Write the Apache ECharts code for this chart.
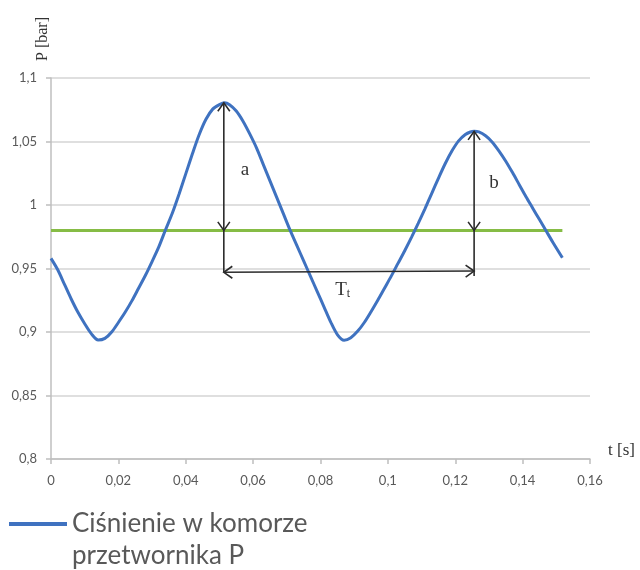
<!DOCTYPE html>
<html>
<head>
<meta charset="utf-8">
<script src="https://cdn.jsdelivr.net/npm/echarts@6/dist/echarts.min.js"></script>
<style>
html,body{margin:0;padding:0;background:#fff;}
#chart{width:640px;height:570px;}
</style>
</head>
<body>
<div id="chart"></div>
<script>
// ---- data ----
const seriesName = 'Ciśnienie w komorze\nprzetwornika P';
const tValues = [0, 0.002, 0.004, 0.006, 0.008, 0.010, 0.012, 0.014, 0.016, 0.018, 0.020, 0.022, 0.024, 0.026,
  0.028, 0.030, 0.032, 0.034, 0.036, 0.038, 0.040, 0.042, 0.044, 0.046, 0.048, 0.050, 0.0515, 0.053, 0.055,
  0.057, 0.059, 0.061, 0.063, 0.065, 0.067, 0.069, 0.071, 0.073, 0.075, 0.077, 0.079, 0.081, 0.083, 0.085,
  0.087, 0.089, 0.091, 0.093, 0.095, 0.097, 0.099, 0.101, 0.103, 0.105, 0.107, 0.109, 0.111, 0.113, 0.115,
  0.117, 0.119, 0.121, 0.123, 0.1245, 0.1256, 0.127, 0.129, 0.131, 0.133, 0.135, 0.137, 0.139, 0.141, 0.143,
  0.145, 0.147, 0.149, 0.1518];
const pValues = [0.958, 0.949, 0.9375, 0.926, 0.9155, 0.9065, 0.8985, 0.8937, 0.8950, 0.9000, 0.9075, 0.9155, 0.9245, 0.9345,
  0.9445, 0.9555, 0.9670, 0.9805, 0.9935, 1.0085, 1.0245, 1.0405, 1.0555, 1.0675, 1.0755, 1.0790, 1.0805, 1.079, 1.074,
  1.066, 1.056, 1.045, 1.032, 1.019, 1.006, 0.993, 0.980, 0.968, 0.956, 0.944, 0.932, 0.920, 0.908, 0.898,
  0.8935, 0.8955, 0.9005, 0.9075, 0.9160, 0.9250, 0.9345, 0.9440, 0.9540, 0.9640, 0.9745, 0.9855, 0.9970, 1.0090, 1.0210,
  1.0325, 1.0425, 1.0505, 1.0555, 1.0575, 1.0580, 1.0575, 1.0545, 1.0495, 1.0425, 1.0345, 1.0255, 1.0160, 1.0065, 0.9975,
  0.9885, 0.9795, 0.9705, 0.9585];
const levelValue = 0.98;
const levelStart = 0;
const levelEnd = 0.1518;
// arrows: x1, y1, x2, y2, head at start, head at end
const arrowSegments = [
  [0.0513, 1.0805, 0.0513, 0.980, 1, 1],
  [0.0513, 0.980, 0.0513, 0.947, 0, 0],
  [0.0513, 0.947, 0.1256, 0.948, 1, 1],
  [0.1256, 1.058, 0.1256, 0.980, 1, 1],
  [0.1256, 0.980, 0.1256, 0.944, 0, 0]
];
// annotation labels: x, y, text
const annotationLabels = [
  [0.0576, 1.0276, 'a'],
  [0.1315, 1.0173, 'b'],
  [0.0866, 0.933, 'Tt']
];
const xTicks = {min: 0, max: 0.16, interval: 0.02};
const yTicks = {min: 0.8, max: 1.1, interval: 0.05};

const curve = tValues.map((t, i) => [t, pValues[i]]);
const level = [[levelStart, levelValue], [levelEnd, levelValue]];
const fmt = v => String(+v.toFixed(3)).replace('.', ',');

const chart = echarts.init(document.getElementById('chart'));
const axisLabelStyle = {color: '#595959', fontFamily: 'Lato', fontSize: 13};

chart.setOption({
  animation: false,
  backgroundColor: '#fff',
  grid: {left: 51, right: 50, top: 78, bottom: 111, containLabel: false},
  xAxis: {
    type: 'value', min: xTicks.min, max: xTicks.max, interval: xTicks.interval,
    name: 't [s]', nameLocation: 'end', nameGap: 18,
    nameTextStyle: {fontFamily: 'Liberation Serif', fontSize: 17, color: '#333', verticalAlign: 'bottom', lineHeight: 16},
    axisLine: {show: true, lineStyle: {color: '#bfbfbf', width: 1.5}},
    axisTick: {show: true, length: 5, lineStyle: {color: '#bfbfbf', width: 1.5}},
    axisLabel: Object.assign({margin: 15, formatter: fmt}, axisLabelStyle),
    splitLine: {show: false}
  },
  yAxis: {
    type: 'value', min: yTicks.min, max: yTicks.max, interval: yTicks.interval,
    name: 'P [bar]', nameLocation: 'end', nameGap: 17, nameRotate: 90,
    nameTextStyle: {fontFamily: 'Liberation Serif', fontSize: 16, color: '#333', verticalAlign: 'bottom', lineHeight: 16},
    axisLine: {show: true, lineStyle: {color: '#bfbfbf', width: 1.5}},
    axisTick: {show: true, length: 5, lineStyle: {color: '#bfbfbf', width: 1.5}},
    axisLabel: Object.assign({margin: 14, formatter: fmt}, axisLabelStyle),
    splitLine: {show: true, lineStyle: {color: '#d4d4d4', width: 1.5}}
  },
  legend: {
    data: [seriesName],
    left: 9, top: 476, padding: 0,
    icon: 'rect', itemWidth: 58, itemHeight: 4, itemGap: 6,
    formatter: name => '\n' + name,
    textStyle: {fontFamily: 'Lato', fontSize: 26, color: '#595959', lineHeight: 32}
  },
  series: [
    {
      type: 'line', name: 'level', data: level, symbol: 'none', silent: true,
      lineStyle: {color: '#86bc45', width: 3}, z: 2
    },
    {
      type: 'line', name: seriesName, data: curve, symbol: 'none', smooth: 0.3,
      lineStyle: {color: '#3f72c0', width: 3}, itemStyle: {color: '#3f72c0'}, z: 3
    },
    {
      type: 'custom', name: 'arrows', data: arrowSegments, silent: true, z: 4,
      encode: {x: [0, 2], y: [1, 3]},
      renderItem: function (params, api) {
        const p1 = api.coord([api.value(0), api.value(1)]);
        const p2 = api.coord([api.value(2), api.value(3)]);
        const style = {stroke: '#2b2b2b', lineWidth: 1.6, fill: null};
        const children = [{type: 'line', shape: {x1: p1[0], y1: p1[1], x2: p2[0], y2: p2[1]}, style: style}];
        const dx = p2[0] - p1[0], dy = p2[1] - p1[1];
        const len = Math.sqrt(dx * dx + dy * dy) || 1;
        const ux = dx / len, uy = dy / len;
        const L = 8.5, W = 6;
        function head(tip, dirx, diry) {
          const bx = tip[0] + dirx * L, by = tip[1] + diry * L;
          return {type: 'polyline', shape: {points: [
            [bx - diry * W, by + dirx * W], tip, [bx + diry * W, by - dirx * W]]}, style: style};
        }
        if (api.value(4)) children.push(head(p1, ux, uy));
        if (api.value(5)) children.push(head(p2, -ux, -uy));
        return {type: 'group', children: children};
      }
    },
    {
      type: 'custom', name: 'labels', data: annotationLabels, silent: true, z: 5,
      encode: {x: 0, y: 1},
      renderItem: function (params, api) {
        const p = api.coord([api.value(0), api.value(1)]);
        const txt = api.value(2);
        const isT = txt === 'Tt';
        return {
          type: 'text', x: p[0], y: p[1],
          style: {
            text: isT ? '{T|T}{s|t}' : txt,
            fontFamily: 'Liberation Serif', fontSize: 19, fill: '#333',
            align: 'center', verticalAlign: 'middle',
            rich: {
              T: {fontFamily: 'Liberation Serif', fontSize: 19, color: '#333'},
              s: {fontFamily: 'Liberation Serif', fontSize: 12, color: '#333', padding: [8, 0, 0, 0]}
            }
          }
        };
      }
    }
  ]
});
</script>
</body>
</html>
